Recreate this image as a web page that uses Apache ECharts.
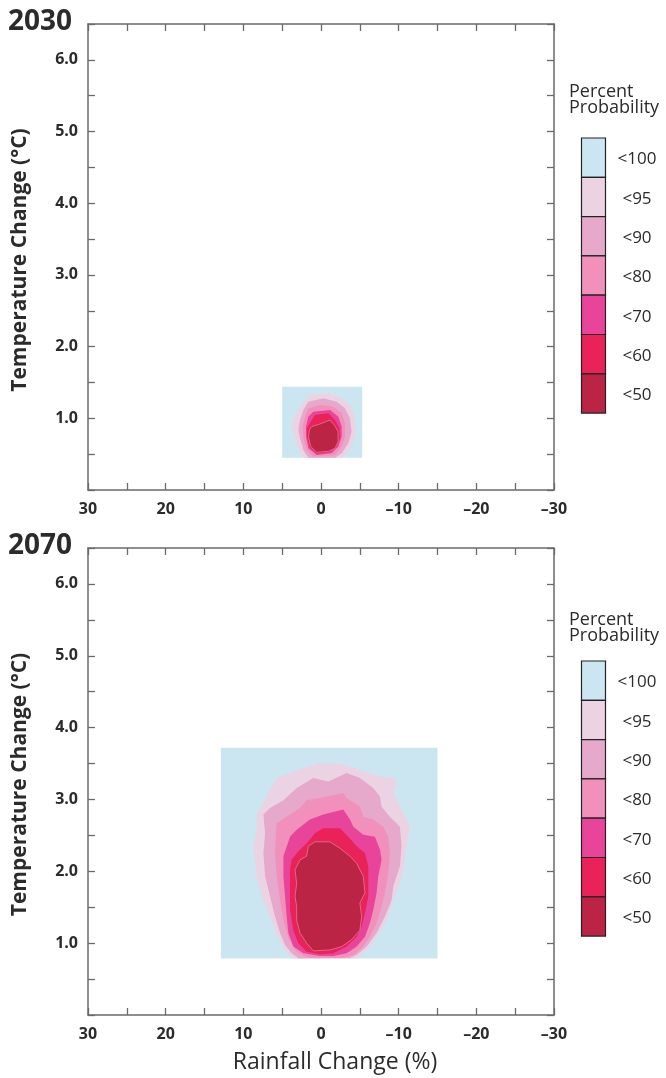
<!DOCTYPE html>
<html>
<head>
<meta charset="utf-8">
<script src="https://cdn.jsdelivr.net/npm/echarts@6/dist/echarts.min.js"></script>
<style>
  html, body { margin: 0; padding: 0; background: #fff; }
  #chart { width: 666px; height: 1078px; }
</style>
</head>
<body>
<div id="chart"></div>
<script>
  // 图例等级与颜色
  const years = ['2030', '2070'];
  const levels = ['<100', '<95', '<90', '<80', '<70', '<60', '<50'];
  const levelColors = ['#cbe6f1', '#ecd3e4', '#e6a9cb', '#f190bb', '#e8449a', '#e92259', '#bb2444'];
  const xLabels = [30, 20, 10, 0, -10, -20, -30];
  const yLabels = [1, 2, 3, 4, 5, 6];

  // 2030 contours: [rainfall %, temperature °C]
  const c2030_100 = [[5, 0.45], [-5.3, 0.45], [-5.3, 1.44], [5, 1.44]];
  const c2030_95 = [[1.42, 1.325], [-0.94, 1.349], [-2.66, 1.279], [-3.73, 1.186], [-4.37, 1.023], [-4.5, 0.837], [-4.16, 0.674], [-3.51, 0.535], [-2.66, 0.451], [2.27, 0.451], [2.92, 0.581], [3.35, 0.744], [3.77, 0.884], [3.56, 0.977], [2.92, 1.116], [2.27, 1.232]];
  const c2030_90 = [[1.63, 1.232], [-0.3, 1.279], [-2.01, 1.232], [-3.08, 1.139], [-3.73, 1.0], [-3.94, 0.814], [-3.51, 0.651], [-2.66, 0.512], [-1.8, 0.451], [1.63, 0.451], [2.27, 0.558], [2.7, 0.721], [2.92, 0.837], [2.7, 0.977], [2.27, 1.116]];
  const c2030_80 = [[1.63, 1.139], [0.13, 1.186], [-1.58, 1.163], [-2.66, 1.07], [-3.08, 0.93], [-3.08, 0.744], [-2.66, 0.605], [-1.8, 0.488], [0.99, 0.465], [1.85, 0.558], [2.27, 0.721], [2.36, 0.884], [2.06, 1.023]];
  const c2030_70 = [[1.63, 1.023], [0.99, 1.093], [-1.16, 1.116], [-2.23, 1.023], [-2.66, 0.884], [-2.66, 0.744], [-2.23, 0.605], [-1.37, 0.512], [0.56, 0.488], [1.63, 0.581], [1.93, 0.744], [1.93, 0.884]];
  const c2030_60 = [[1.42, 0.93], [0.77, 1.046], [-0.94, 1.07], [-1.8, 0.977], [-2.36, 0.86], [-2.44, 0.721], [-2.01, 0.605], [-1.16, 0.535], [0.56, 0.505], [1.5, 0.6], [1.8, 0.744], [1.8, 0.86]];
  const c2030_50 = [[1.2, 0.884], [0.13, 0.921], [-1.16, 0.977], [-1.8, 0.893], [-2.2, 0.814], [-2.2, 0.674], [-1.8, 0.581], [-0.94, 0.54], [0.56, 0.525], [1.35, 0.61], [1.6, 0.744], [1.5, 0.837]];

  // 2070 contours
  const c2070_100 = [[12.9, 0.785], [-15, 0.785], [-15, 3.72], [12.9, 3.72]];
  const c2070_95 = [[0.34, 3.505], [-2.44, 3.505], [-5.01, 3.41], [-7.59, 3.32], [-9.52, 3.3], [-9.73, 3.2], [-9.3, 3.11], [-10.16, 2.9], [-11.44, 2.62], [-11.02, 2.35], [-10.59, 2.02], [-10.16, 1.83], [-9.3, 1.6], [-8.44, 1.32], [-7.16, 1.09], [-5.87, 0.906], [-4.59, 0.785], [3.56, 0.785], [4.63, 0.906], [5.49, 1.09], [6.56, 1.37], [7.63, 1.65], [8.27, 1.93], [8.7, 2.35], [8.27, 2.58], [8.27, 2.81], [7.42, 2.95], [6.34, 3.18], [5.7, 3.3], [3.56, 3.39]];
  const c2070_90 = [[7.42, 2.79], [6.56, 2.88], [4.84, 2.99], [3.13, 3.16], [0.99, 3.3], [-0.94, 3.25], [-3.3, 3.37], [-5.01, 3.3], [-6.73, 3.16], [-7.59, 3.04], [-7.8, 2.9], [-8.87, 2.76], [-10.16, 2.62], [-10.37, 2.35], [-10.16, 2.07], [-9.3, 1.79], [-9.09, 1.6], [-8.23, 1.37], [-7.16, 1.14], [-5.87, 0.952], [-4.59, 0.836], [-3.73, 0.794], [2.92, 0.79], [3.77, 0.859], [4.63, 0.975], [5.27, 1.14], [5.92, 1.37], [6.56, 1.65], [7.2, 1.93], [7.42, 2.25], [7.2, 2.53]];
  const c2070_80 = [[5.7, 2.67], [4.42, 2.76], [2.7, 2.88], [1.84, 2.99], [0.13, 3.02], [-2.87, 3.09], [-3.3, 3.02], [-5.01, 2.9], [-5.44, 2.76], [-6.73, 2.72], [-8.01, 2.62], [-8.66, 2.48], [-8.87, 2.25], [-8.66, 1.97], [-8.23, 1.7], [-7.8, 1.51], [-7.16, 1.28], [-6.3, 1.09], [-5.23, 0.929], [-4.16, 0.836], [-2.87, 0.797], [1.42, 0.797], [2.27, 0.82], [3.34, 0.906], [4.2, 1.07], [4.84, 1.32], [5.27, 1.6], [5.7, 1.93], [5.92, 2.25], [5.8, 2.53]];
  const c2070_70 = [[4.84, 2.21], [3.99, 2.48], [3.13, 2.58], [1.42, 2.72], [-0.3, 2.79], [-2.87, 2.86], [-3.73, 2.72], [-4.16, 2.62], [-5.44, 2.51], [-6.94, 2.48], [-7.59, 2.3], [-7.8, 2.16], [-7.37, 1.93], [-7.16, 1.7], [-6.73, 1.46], [-6.3, 1.28], [-5.66, 1.09], [-4.59, 0.952], [-3.3, 0.859], [-1.59, 0.82], [0.13, 0.82], [2.27, 0.859], [3.56, 0.952], [4.2, 1.14], [4.42, 1.37], [4.63, 1.65], [4.84, 1.93]];
  const c2070_60 = [[3.99, 2.02], [3.77, 2.16], [2.92, 2.28], [1.84, 2.39], [0.77, 2.53], [-0.3, 2.6], [-2.44, 2.6], [-3.51, 2.48], [-4.59, 2.35], [-5.66, 2.25], [-6.09, 2.07], [-6.09, 1.83], [-6.09, 1.65], [-5.66, 1.42], [-5.23, 1.23], [-4.59, 1.09], [-3.3, 0.952], [-1.59, 0.859], [0.13, 0.845], [1.84, 0.882], [2.92, 1.0], [3.56, 1.18], [3.99, 1.46], [3.99, 1.65], [3.99, 1.88]];
  const c2070_50 = [[3.34, 2.02], [2.7, 2.16], [1.84, 2.21], [1.63, 2.35], [0.77, 2.41], [-1.16, 2.41], [-2.44, 2.32], [-3.73, 2.21], [-4.59, 2.11], [-5.44, 1.93], [-5.66, 1.7], [-5.01, 1.56], [-5.23, 1.37], [-5.01, 1.18], [-3.94, 1.05], [-2.66, 0.952], [-1.16, 0.906], [0.99, 0.892], [1.84, 1.0], [2.7, 1.14], [3.13, 1.32], [3.13, 1.51], [3.34, 1.65], [3.13, 1.83]];

  const shapes = [
    [c2030_100, c2030_95, c2030_90, c2030_80, c2030_70, c2030_60, c2030_50],
    [c2070_100, c2070_95, c2070_90, c2070_80, c2070_70, c2070_60, c2070_50]
  ];

  const grids = [
    {left: 88, top: 24, width: 466, height: 466},
    {left: 88, top: 548, width: 466, height: 467}
  ];
  const legendTop = [138, 661];
  const legendTitleY = [100, 628];
  const boxH = 39.3;

  const textColor = '#2b2b2b';
  const axisColor = '#6a6a6a';
  const font = '"Open Sans", "Noto Sans", sans-serif';

  function fmtX(v) {
    if (!xLabels.includes(v)) return '';
    return v < 0 ? '\u2013' + Math.abs(v) : String(v);
  }
  function fmtY(v) {
    return yLabels.includes(v) ? v.toFixed(1) : '';
  }

  let xAxis = [], yAxis = [], series = [], graphic = [];

  grids.forEach((g, i) => {
    const line = {show: true, onZero: false, lineStyle: {color: axisColor, width: 1.5}};
    const tick = {show: true, inside: true, length: 7, lineStyle: {color: axisColor, width: 1.3}};
    xAxis.push({
      type: 'value', gridIndex: i, min: -30, max: 30, interval: 5, inverse: true,
      axisLine: line, axisTick: tick, splitLine: {show: false},
      axisLabel: {formatter: fmtX, fontFamily: font, fontSize: 16, fontWeight: 'bold', color: textColor, margin: 11}
    });
    xAxis.push({
      type: 'value', gridIndex: i, min: -30, max: 30, interval: 5, inverse: true, position: 'top',
      axisLine: line, axisTick: tick, splitLine: {show: false}, axisLabel: {show: false}
    });
    yAxis.push({
      type: 'value', gridIndex: i, min: 0, max: 6.5, interval: 0.5,
      axisLine: line, axisTick: tick, splitLine: {show: false},
      axisLabel: {formatter: fmtY, fontFamily: font, fontSize: 16, fontWeight: 'bold', color: textColor, margin: 10}
    });
    yAxis.push({
      type: 'value', gridIndex: i, min: 0, max: 6.5, interval: 0.5, position: 'right',
      axisLine: line, axisTick: tick, splitLine: {show: false}, axisLabel: {show: false}
    });

    shapes[i].forEach((pts, k) => {
      series.push({
        type: 'custom',
        xAxisIndex: i * 2,
        yAxisIndex: i * 2,
        silent: true,
        animation: false,
        z: 2 + k,
        data: [[0, 1]],
        renderItem: (params, api) => ({
          type: 'polygon',
          shape: {points: pts.map(p => api.coord(p))},
          style: {
            fill: levelColors[k],
            stroke: k === levels.length - 1 ? '#e8849c' : null,
            lineWidth: k === levels.length - 1 ? 0.7 : 0
          }
        })
      });
    });

    // 年份
    graphic.push({
      type: 'text', x: 8, y: g.top - 2,
      style: {text: years[i], font: 'bold 28px ' + font, fill: textColor, verticalAlign: 'middle'}
    });
    // y轴标题
    graphic.push({
      type: 'text', x: 20, y: g.top + g.height / 2 + 3, rotation: Math.PI / 2,
      style: {text: 'Temperature Change (\u00b0C)', font: 'bold 21px ' + font, fill: textColor, align: 'center', verticalAlign: 'middle'}
    });
    // 图例
    const lt = legendTop[i];
    graphic.push({
      type: 'text', x: 569, y: legendTitleY[i],
      style: {text: 'Percent\nProbability', font: '18px ' + font, fill: textColor, lineHeight: 16, verticalAlign: 'middle'}
    });
    levels.forEach((lv, k) => {
      graphic.push({
        type: 'rect', shape: {x: 581.5, y: lt + k * boxH, width: 24, height: boxH},
        style: {fill: levelColors[k], stroke: '#222', lineWidth: 1.2}
      });
      graphic.push({
        type: 'text', x: 637, y: lt + k * boxH + boxH / 2 + 2,
        style: {text: lv, font: '17px ' + font, fill: textColor, align: 'center', verticalAlign: 'middle'}
      });
    });
  });

  graphic.push({
    type: 'text', x: 335, y: 1062,
    style: {text: 'Rainfall Change (%)', font: '23px ' + font, fill: textColor, align: 'center', verticalAlign: 'middle'}
  });

  const chart = echarts.init(document.getElementById('chart'), null, {renderer: 'canvas'});
  chart.setOption({
    backgroundColor: '#fff',
    animation: false,
    grid: grids,
    xAxis: xAxis,
    yAxis: yAxis,
    series: series,
    graphic: graphic
  });
</script>
</body>
</html>
